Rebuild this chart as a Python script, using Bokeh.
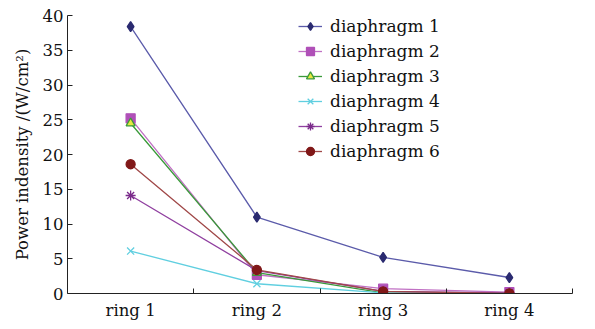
from bokeh.plotting import figure
from bokeh.models import FixedTicker, Legend, LegendItem, Range1d
from bokeh.embed import file_html
from bokeh.resources import INLINE

rings = ["ring 1", "ring 2", "ring 3", "ring 4"]
d1 = [38.4, 11.0, 5.2, 2.3]
d2 = [25.2, 2.7, 0.7, 0.2]
d3 = [24.5, 3.0, 0.1, 0.0]
d4 = [6.1, 1.4, 0.1, 0.0]
d5 = [14.1, 3.3, 0.3, 0.1]
d6 = [18.6, 3.4, 0.3, 0.0]
names = ["diaphragm 1", "diaphragm 2", "diaphragm 3", "diaphragm 4", "diaphragm 5", "diaphragm 6"]
y_ticks = [0, 5, 10, 15, 20, 25, 30, 35, 40]

FONT = "DejaVu Serif"
xs = [i + 0.5 for i in range(len(rings))]

p = figure(width=595, height=329, output_backend="svg", toolbar_location=None,
           x_range=Range1d(0, len(rings)), y_range=Range1d(0, 40),
           min_border_left=67, min_border_right=23, min_border_top=15, min_border_bottom=36)
p.outline_line_color = None
p.grid.visible = False
p.background_fill_color = "white"

# x axis
p.xaxis.ticker = FixedTicker(ticks=xs, minor_ticks=list(range(1, len(rings) + 1)))
p.xaxis.major_label_overrides = {x: r for x, r in zip(xs, rings)}
p.xaxis.major_tick_in = 0
p.xaxis.major_tick_out = 0
p.xaxis.minor_tick_in = 5
p.xaxis.minor_tick_out = 0
p.xaxis.major_label_standoff = 7
# y axis
p.yaxis.ticker = FixedTicker(ticks=y_ticks, minor_ticks=[])
p.yaxis.major_tick_in = 5
p.yaxis.major_tick_out = 0
p.yaxis.major_label_standoff = 4
p.yaxis.axis_label = "Power indensity /(W/cm\u00b2)"
p.yaxis.axis_label_standoff = 8
for ax in (p.xaxis, p.yaxis):
    ax.axis_line_color = "#222222"
    ax.major_tick_line_color = "#222222"
    ax.minor_tick_line_color = "#222222"
    ax.major_label_text_font = FONT
    ax.major_label_text_font_size = "16.5px"
    ax.major_label_text_color = "#111111"
    ax.axis_label_text_font = FONT
    ax.axis_label_text_font_size = "16.5px"
    ax.axis_label_text_font_style = "normal"
    ax.axis_label_text_color = "#111111"

styles = [
    (d1, "#5b5baa", "diamond", "#2a2a70", "#2a2a70", 10),
    (d2, "#c070c4", "square", "#b050b8", "#b050b8", 9),
    (d3, "#3a9a3a", "triangle", "#3a9a3a", "#e8e840", 9),
    (d4, "#60cfe0", "x", "#60cfe0", "#60cfe0", 10),
    (d5, "#9040a0", "asterisk", "#7a2a8a", "#7a2a8a", 10),
    (d6, "#a04848", "circle", "#801818", "#801818", 9),
]

items = []
for name, (vals, lc, mk, mlc, mfc, sz) in zip(names, styles):
    l = p.line(xs, vals, line_color=lc, line_width=1.3)
    s = p.scatter(xs, vals, marker=mk, size=sz, line_color=mlc, fill_color=mfc, line_width=1.3)
    items.append(LegendItem(label=name, renderers=[l, s]))

legend = Legend(items=items, location=(231, 132), padding=0, margin=0, spacing=5,
                glyph_width=24, glyph_height=20, label_height=20, label_standoff=8,
                label_text_font=FONT, label_text_font_size="17px", label_text_color="#111111",
                border_line_color=None, background_fill_alpha=0)
p.add_layout(legend, "center")

open("out.html", "w").write(file_html(p, INLINE))
